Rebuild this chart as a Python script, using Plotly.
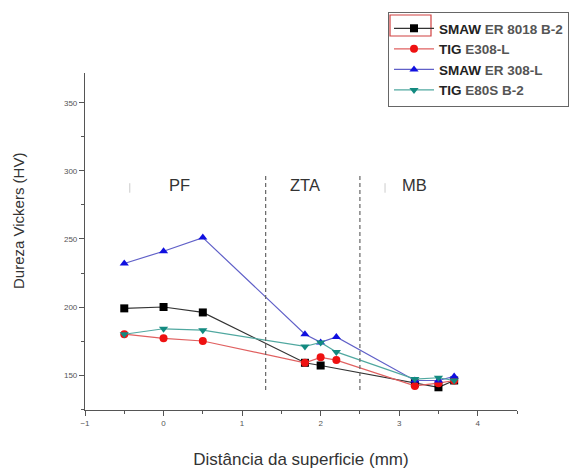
import plotly.graph_objects as go

x_pos = [-0.5, 0.0, 0.5, 1.8, 2.0, 2.2, 3.2, 3.5, 3.7]
x_smaw_8018 = [-0.5, 0.0, 0.5, 1.8, 2.0, 3.2, 3.5, 3.7]
smaw_8018 = [199, 200, 196, 159, 157, 144, 141, 146]
tig_308 = [180, 177, 175, 159, 163, 161, 142, 144, 146]
smaw_308 = [232, 241, 251, 180, 174, 178, 146, 146, 149]
tig_80s = [180, 184, 183, 171, 174, 167, 147, 148, 146]

names = ["<b>SMAW</b> <b style='color:#555555'>ER 8018 B-2</b>",
         "<b>TIG</b> <b style='color:#555555'>E308-L</b>",
         "<b>SMAW</b> <b style='color:#555555'>ER 308-L</b>",
         "<b>TIG</b> <b style='color:#555555'>E80S B-2</b>"]
zones = ["PF", "ZTA", "MB"]
zone_x = [0.2, 1.8, 3.2]
boundaries = [1.3, 2.5]

x_ticks = [-1, 0, 1, 2, 3, 4]
y_ticks = [150, 200, 250, 300, 350]

fig = go.Figure()

series = [
    (x_smaw_8018, smaw_8018, names[0], "#000000", "#333333", "square"),
    (x_pos, tig_308, names[1], "#ee1111", "#e06060", "circle"),
    (x_pos, smaw_308, names[2], "#1010e0", "#6060c8", "triangle-up"),
    (x_pos, tig_80s, names[3], "#138a80", "#50a8a0", "triangle-down"),
]
for xs, ys, nm, mc, lc, sym in series:
    fig.add_trace(go.Scatter(
        x=xs, y=ys, name=nm, mode="lines+markers",
        line=dict(color=lc, width=1.2),
        marker=dict(color=mc, symbol=sym, size=8),
    ))

for b in boundaries:
    fig.add_shape(type="line", x0=b, x1=b, y0=139, y1=297, xref="x", yref="y",
                  line=dict(color="#666666", width=1.2, dash="4px,3px"))

for zx, zt in zip(zone_x, zones):
    fig.add_annotation(x=zx, y=290, text=zt, showarrow=False, xref="x", yref="y",
                       font=dict(family="Arial, Liberation Sans", size=16.5, color="#333333"))

# faint artifact marks
for ax_ in [-0.43, 2.82]:
    fig.add_shape(type="line", x0=ax_, x1=ax_, y0=284, y1=291, xref="x", yref="y",
                  line=dict(color="#cccccc", width=1))

# plot area in figure pixels: x 77..509, y 65..402 (page body has 8px margin)
PL, PR, PT, PB = 77, 509, 65, 402
PW, PH = PR - PL, PB - PT

def px(xw):
    return (xw - 8 - PL) / PW

def py(yw):
    return (PB - (yw - 8)) / PH

# red selection box around first legend symbol
fig.add_shape(type="rect", xref="paper", yref="paper",
              x0=px(390), x1=px(431), y0=py(36), y1=py(15),
              line=dict(color="#d04040", width=1.2))

# y-axis title (placed as annotation, slightly above plot centre as in reference)
fig.add_annotation(x=px(19), y=py(221), xref="paper", yref="paper", showarrow=False,
                   xanchor="center", yanchor="middle",
                   text="Dureza Vickers (HV)", textangle=-90,
                   font=dict(family="Arial, Liberation Sans", size=15, color="#333333"))

fig.update_layout(
    width=576, height=465,
    margin=dict(l=PL, r=576 - PR, t=PT, b=465 - PB, autoexpand=False),
    paper_bgcolor="white", plot_bgcolor="white",
    font=dict(family="Arial, Liberation Sans", color="#333333"),
    showlegend=True,
    legend=dict(x=px(388), y=py(12), xanchor="left", yanchor="top",
                bordercolor="#666666", borderwidth=1, bgcolor="rgba(0,0,0,0)",
                font=dict(family="Arial, Liberation Sans", size=13.5, color="#222222"),
                itemwidth=40, tracegroupgap=0),
    xaxis=dict(range=[-1, 4.5], tickvals=x_ticks, ticks="outside", ticklen=5,
               tickcolor="#555555", showline=True, linecolor="#555555", linewidth=1.2,
               showgrid=False, zeroline=False, automargin=False,
               tickfont=dict(size=8, color="#555555"),
               minor=dict(dtick=0.5, ticks="outside", ticklen=3, tickcolor="#555555"),
               title=dict(text="Distância da superficie (mm)", standoff=26,
                          font=dict(size=17, color="#333333"))),
    yaxis=dict(range=[124.3, 372], tickvals=y_ticks, ticks="outside", ticklen=5,
               tickcolor="#555555", showline=True, linecolor="#555555", linewidth=1.2,
               showgrid=False, zeroline=False, automargin=False,
               tickfont=dict(size=8, color="#555555"),
               minor=dict(dtick=25, ticks="outside", ticklen=3, tickcolor="#555555")),
)

fig.write_html("out.html")
